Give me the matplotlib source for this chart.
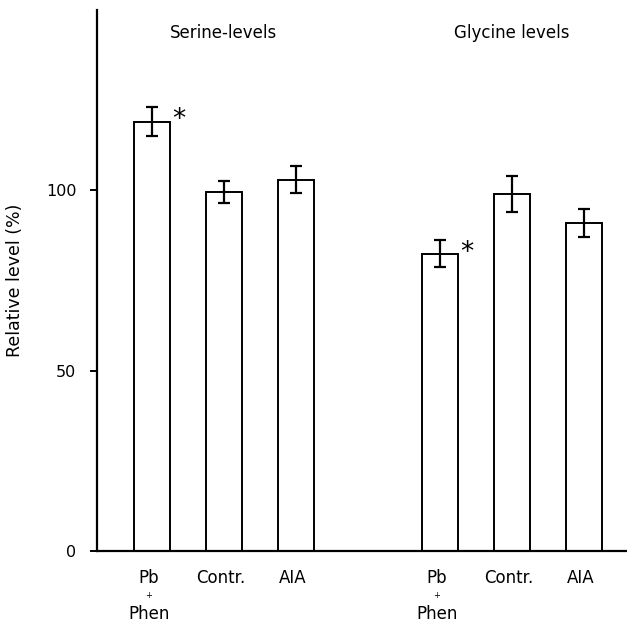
import matplotlib
matplotlib.use("Agg")
import matplotlib.pyplot as plt
import numpy as np

plt.rcParams['font.family'] = ['DejaVu Sans']

groups = ["Serine-levels", "Glycine levels"]
categories = ["Pb\n+\nPhen", "Contr.", "AIA"]
serine_vals = [119, 99.5, 103]
serine_err = [4, 3, 3.8]
glycine_vals = [82.5, 99, 91]
glycine_err = [3.8, 5, 3.8]
significant = [True, False, False]
yticks = [0, 50, 100]

fig = plt.figure(figsize=(6.27, 6.23), dpi=100)
ax = fig.add_axes([0.155, 0.115, 0.845, 0.869])

positions = [np.arange(3), np.arange(3) + 4]
series_vals = [serine_vals, glycine_vals]
series_err = [serine_err, glycine_err]
for pos, vals, errs, title in zip(positions, series_vals, series_err, groups):
    ax.bar(pos, vals, width=0.5, color="white", edgecolor="black", linewidth=1.4, zorder=2)
    ax.errorbar(pos, vals, yerr=errs, fmt="none", ecolor="black", elinewidth=1.6,
                capsize=4, capthick=1.6, zorder=3)
    for p, v, e, s in zip(pos, vals, errs, significant):
        if s:
            ax.text(p + 0.37, v + e - 3.5, "*", fontsize=19, ha="center", va="center")
    ax.text(pos.mean(), 143.5, title, ha="center", va="center", fontsize=12)
    for p, c in zip(pos, categories):
        lines = c.split("\n")
        ax.text(p - 0.04, -5.0, lines[0], ha="center", va="top", fontsize=12)
        if len(lines) > 1:
            ax.text(p - 0.04, -11.0, lines[1], ha="center", va="top", fontsize=6)
            ax.text(p - 0.04, -14.8, lines[2], ha="center", va="top", fontsize=12)

ax.set_xlim(-0.76, 6.6)
ax.set_ylim(0, 150)
ax.set_yticks(yticks)
ax.set_yticklabels([str(t) for t in yticks], fontsize=11.5)
ax.set_xticks([])
ax.set_ylabel("Relative level (%)", fontsize=12.5, labelpad=16)
ax.spines["top"].set_visible(False)
ax.spines["right"].set_visible(False)
ax.spines["left"].set_linewidth(1.6)
ax.spines["bottom"].set_linewidth(1.6)
ax.tick_params(axis="y", length=5, width=1.4, pad=10)

fig.savefig("out.png", dpi=100)
